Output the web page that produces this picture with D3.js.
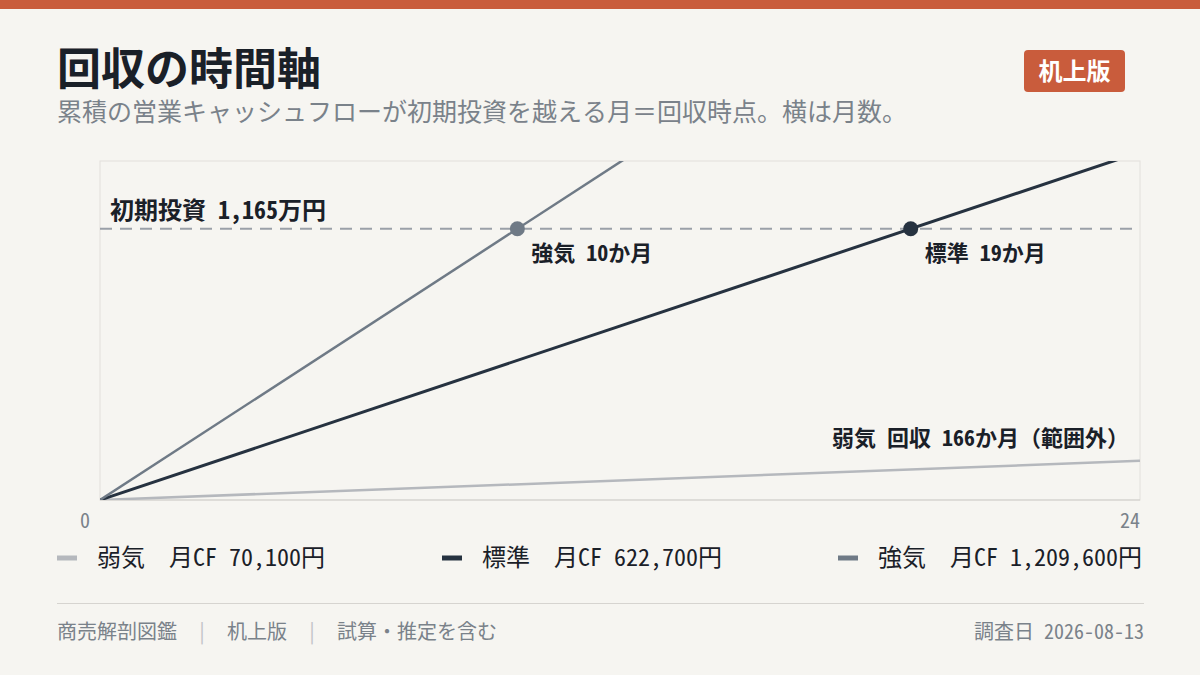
<!DOCTYPE html>
<html><head><meta charset="utf-8">
<script src="https://cdn.jsdelivr.net/npm/d3@7"></script>
<style>
html,body{margin:0;padding:0;background:#f6f5f1;}
svg{display:block;font-family:"Noto Sans Mono CJK JP","Noto Sans CJK JP",sans-serif;}
</style></head>
<body>
<svg id="chart" width="1200" height="675"></svg>
<script>
// ---- data ----
const scenarios = ["弱気", "標準", "強気"];
const monthlyCF = [70100, 622700, 1209600];
const paybackMonths = [166, 19, 10];
const initialInvestment = 11650000;
const xTicks = [0, 24];
const legendLabels = ["弱気　月CF 70,100円", "標準　月CF 622,700円", "強気　月CF 1,209,600円"];
const footerLeft = ["商売解剖図鑑", "机上版", "試算・推定を含む"];
const footerRight = "調査日 2026-08-13";

const colors = ["#b5b8bd", "#263240", "#6f7a86"];
const widths = [2.5, 3, 2.5];

const svg = d3.select("#chart");
const W = 1200, H = 675;
svg.append("rect").attr("width", W).attr("height", H).attr("fill", "#f6f5f1");
svg.append("rect").attr("width", W).attr("height", 9).attr("fill", "#c95c3c");

// title
svg.append("text").attr("x", 57).attr("y", 85).attr("font-size", 44).attr("font-weight", 700)
  .attr("fill", "#1a2028").text("回収の時間軸");
svg.append("text").attr("x", 57).attr("y", 121).attr("font-size", 25).attr("fill", "#7a828a")
  .text("累積の営業キャッシュフローが初期投資を越える月＝回収時点。横は月数。");

// badge
svg.append("rect").attr("x", 1024).attr("y", 50).attr("width", 101).attr("height", 42).attr("rx", 4)
  .attr("fill", "#c95c3c");
svg.append("text").attr("x", 1074.5).attr("y", 80).attr("text-anchor", "middle").attr("font-size", 24)
  .attr("font-weight", 700).attr("fill", "#ffffff").text("机上版");

// plot
const pl = 100, pr = 1140, pt = 161, pb = 500;
const x = d3.scaleLinear().domain([0, 24]).range([pl, pr]);
const y = d3.scaleLinear().domain([0, initialInvestment * 1.25]).range([pb, pt]);

svg.append("rect").attr("x", pl).attr("y", pt).attr("width", pr - pl).attr("height", pb - pt)
  .attr("fill", "none").attr("stroke", "#e2e0dc").attr("stroke-width", 1);
svg.append("line").attr("x1", pl).attr("x2", pr).attr("y1", pb).attr("y2", pb)
  .attr("stroke", "#cfcdc9").attr("stroke-width", 1);

svg.append("defs").append("clipPath").attr("id", "clip").append("rect")
  .attr("x", pl).attr("y", pt).attr("width", pr - pl).attr("height", pb - pt);

// investment line
svg.append("line").attr("x1", x(0)).attr("x2", x(24)).attr("y1", y(initialInvestment)).attr("y2", y(initialInvestment))
  .attr("stroke", "#9aa0a8").attr("stroke-width", 2).attr("stroke-dasharray", "12,8");
svg.append("text").attr("x", 110).attr("y", 219).attr("font-size", 24).attr("font-weight", 700)
  .attr("fill", "#1a2028").text("初期投資  1,165万円");

const line = d3.line().x(d => x(d[0])).y(d => y(d[1]));
const g = svg.append("g").attr("clip-path", "url(#clip)");
scenarios.forEach((s, i) => {
  const pts = [[0, 0], [24, monthlyCF[i] * 24]];
  g.append("path").datum(pts).attr("d", line).attr("fill", "none")
    .attr("stroke", colors[i]).attr("stroke-width", widths[i]);
});

// crossing dots & labels
[2, 1].forEach(i => {
  const m = initialInvestment / monthlyCF[i];
  svg.append("circle").attr("cx", x(m)).attr("cy", y(initialInvestment)).attr("r", 7.5).attr("fill", colors[i]);
  svg.append("text").attr("x", x(m) + 14).attr("y", y(initialInvestment) + 32).attr("font-size", 22)
    .attr("font-weight", 700).attr("fill", "#1a2028").text(scenarios[i] + "  " + paybackMonths[i] + "か月");
});
svg.append("text").attr("x", 1129).attr("y", 446).attr("text-anchor", "end").attr("font-size", 22)
  .attr("font-weight", 700).attr("fill", "#1a2028")
  .text(scenarios[0] + "  回収  " + paybackMonths[0] + "か月（範囲外）");

// x ticks
xTicks.forEach((t, k) => {
  svg.append("text").attr("x", k === 0 ? 85 : x(t))
    .attr("y", 528).attr("text-anchor", k === 0 ? "middle" : "end").attr("font-size", 20)
    .attr("fill", "#7a828a").text(t);
});

// legend
const legX = [57, 442, 838];
legendLabels.forEach((l, i) => {
  svg.append("line").attr("x1", legX[i]).attr("x2", legX[i] + 20).attr("y1", 558).attr("y2", 558)
    .attr("stroke", colors[i]).attr("stroke-width", 5);
  svg.append("text").attr("x", legX[i] + 40).attr("y", 566).attr("font-size", 24).attr("fill", "#1a2028").text(l);
});

// footer
svg.append("line").attr("x1", 57).attr("x2", 1144).attr("y1", 603.5).attr("y2", 603.5)
  .attr("stroke", "#d6d4d0").attr("stroke-width", 1);
const ft = svg.append("text").attr("x", 57).attr("y", 639).attr("font-size", 20).attr("fill", "#7a828a");
footerLeft.forEach((f, i) => {
  if (i > 0) ft.append("tspan").attr("fill", "#c0c2c6").text("　|　");
  ft.append("tspan").text(f);
});
svg.append("text").attr("x", 1144).attr("y", 639).attr("text-anchor", "end").attr("font-size", 20)
  .attr("fill", "#7a828a").text(footerRight);
</script>
</body></html>
